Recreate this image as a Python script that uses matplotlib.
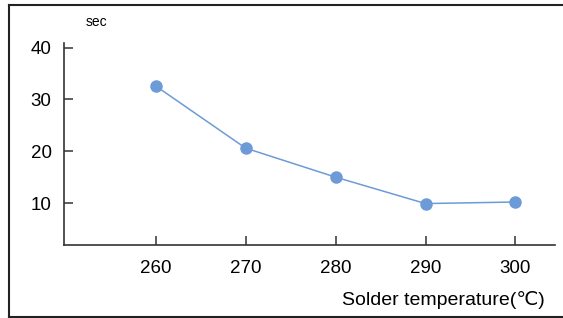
import matplotlib
matplotlib.use("Agg")
import matplotlib.pyplot as plt
from matplotlib.lines import Line2D

# solder temperature (C) vs time (sec)
temps = [260, 270, 280, 290, 300]
times = [32.6, 20.6, 15.0, 9.9, 10.2]
xticks = [260, 270, 280, 290, 300]
yticks = [10, 20, 30, 40]

plt.rcParams['font.family'] = ['Liberation Sans', 'DejaVu Sans']

fig = plt.figure(figsize=(5.63, 3.18), dpi=100)
ax = fig.add_axes([64/563, 1 - 245/318, (555 - 64)/563, (245 - 43)/318])

ax.plot(temps, times, color='#6d9bd8', lw=1.1, marker='o', markersize=8,
        markeredgecolor='#6d9bd8')

ax.set_xlim(249.8, 304.4)
ax.set_ylim(1.9, 40.9)
ax.set_xticks(xticks)
ax.set_yticks(yticks)
ax.tick_params(direction='in', length=6.5, width=1.1, color='#333333',
               labelsize=13.5, pad=11)
ax.tick_params(axis='y', pad=9)
for s in ['top', 'right']:
    ax.spines[s].set_visible(False)
for s in ['left', 'bottom']:
    ax.spines[s].set_color('#333333')
    ax.spines[s].set_linewidth(1.2)

fig.text(96/563, 1 - 22/318, 'sec', fontsize=10, ha='center', va='center')
fig.text(545/563, 1 - 300/318, 'Solder temperature(℃)', fontsize=14,
         ha='right', va='center')

# outer frame (open on the right)
fc = '#222222'
fig.add_artist(Line2D([9/563, 9/563], [1 - 4.5/318, 1 - 316.5/318], color=fc, lw=1.5))
fig.add_artist(Line2D([9/563, 1.0], [1 - 4.5/318, 1 - 4.5/318], color=fc, lw=1.5))
fig.add_artist(Line2D([9/563, 1.0], [1 - 316.5/318, 1 - 316.5/318], color=fc, lw=1.5))

fig.savefig('out.png', dpi=100)
